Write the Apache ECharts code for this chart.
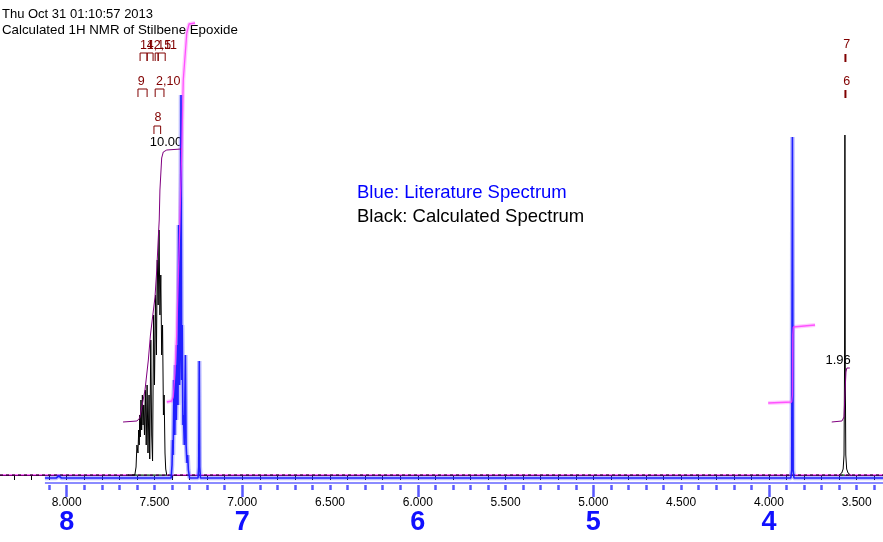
<!DOCTYPE html>
<html><head><meta charset="utf-8">
<script src="https://cdn.jsdelivr.net/npm/echarts@6/dist/echarts.min.js"></script>
<style>html,body{margin:0;padding:0;background:#fff}#c{width:883px;height:542px}</style>
</head><body><div id="c"></div>
<script>
// ---------- data ----------
const titleLines = ["Thu Oct 31 01:10:57 2013", "Calculated 1H NMR of Stilbene Epoxide"];
const legendLines = ["Blue: Literature Spectrum", "Black: Calculated Spectrum"];
const ppmLabels = [8.0, 7.5, 7.0, 6.5, 6.0, 5.5, 5.0, 4.5, 4.0, 3.5];
const integerLabels = [8, 7, 6, 5, 4];
const ppmRange = [3.35, 8.38];
const blueAxisSpan = [8.124, 3.35];

// calculated spectrum (black), [ppm, intensity]
const calcAromatic = [
  [7.650,0],[7.612,0],[7.605,8],[7.600,30],[7.594,22],[7.590,45],[7.587,30],[7.584,60],[7.581,38],
  [7.577,75],[7.573,45],[7.569,80],[7.565,50],[7.561,70],[7.557,40],[7.552,85],[7.547,30],[7.542,90],
  [7.537,22],[7.531,80],[7.527,16],[7.521,135],[7.516,40],[7.511,14],[7.505,160],[7.500,90],[7.494,180],
  [7.489,120],[7.484,215],[7.479,170],[7.474,245],[7.469,160],[7.464,200],[7.459,120],[7.454,150],
  [7.449,60],[7.445,80],[7.440,22],[7.436,6],[7.430,0]
];
const calcEpoxide = [
  [3.600,0],[3.585,2],[3.577,6],[3.572,20],[3.569,110],[3.567,340],[3.565,110],[3.562,20],[3.557,6],[3.549,2],[3.535,0]
];
// literature spectrum (blue)
const litSpectrum = [
  [8.124,-3],[8.06,-3],[8.045,-1],[8.03,-3],[7.62,-3],[7.405,-3],[7.400,10],[7.397,35],[7.394,20],[7.391,60],
  [7.388,95],[7.384,40],[7.380,110],[7.376,55],[7.370,130],[7.366,70],[7.362,250],[7.357,90],[7.353,130],
  [7.349,380],[7.345,95],[7.342,150],[7.338,50],[7.335,60],[7.330,30],[7.324,120],[7.320,30],[7.315,12],
  [7.311,20],[7.307,5],[7.300,-3],[7.252,-3],[7.248,8],[7.245,114],[7.242,8],[7.238,-3],
  [3.875,-3],[3.870,5],[3.866,338],[3.862,5],[3.857,-3],[3.65,-3],[3.64,-1],[3.63,-3],[3.35,-3]
];
// integrals
const calcIntegralAro = [
  [7.679,53],[7.600,54],[7.584,57],[7.573,58],[7.554,85],[7.535,115],[7.523,140],[7.508,162],[7.497,178],
  [7.487,205],[7.478,238],[7.473,255],[7.469,285],[7.459,317],[7.450,323],[7.430,325],[7.349,326]
];
const calcIntegralEpo = [[3.642,53],[3.584,54],[3.572,58],[3.567,80],[3.561,103],[3.556,107],[3.539,107]];
const litIntegralAro = [
  [7.430,73],[7.402,74],[7.393,78],[7.383,102],[7.373,142],[7.355,255],[7.345,325],[7.336,395],
  [7.316,442],[7.303,451],[7.269,452]
];
const litIntegralEpo = [[4.004,72],[3.870,73],[3.866,80],[3.864,140],[3.861,148],[3.737,150]];
// multiplet brackets [ppmLeft, ppmRight, level]
const multipletBrackets = [
  [7.582,7.542,422],[7.542,7.508,422],[7.496,7.479,422],[7.479,7.439,422],
  [7.594,7.542,386],[7.496,7.446,386],
  [7.503,7.465,349],
  [3.564,3.564,421],[3.564,3.564,385]
];
const multipletLabels = [
  ["14,15",7.494,429],["12,11",7.458,429],["9",7.576,393],["2,10",7.422,393],["8",7.480,357],
  ["7",3.557,430],["6",3.557,393]
];
const integralLabels = [["10.00",7.434,333],["1.96",3.606,115]];

// ---------- chart ----------
const minorTicks = [];
for (let v = 83; v >= 34; v--) minorTicks.push(v / 10);
const blueMinor = minorTicks.filter(v => v <= 8.1);

const chart = echarts.init(document.getElementById('c'), null, {renderer: 'canvas'});
const FONT = '"Liberation Sans", Arial, sans-serif';

function line(data, color, width, extra) {
  return Object.assign({
    type: 'line', data: data, symbol: 'none', showSymbol: false, silent: true,
    xAxisIndex: 0, yAxisIndex: 0, animation: false,
    lineStyle: {color: color, width: width}
  }, extra || {});
}
const baseline = [[ppmRange[1], 0], [ppmRange[0], 0]];

chart.setOption({
  animation: false,
  backgroundColor: '#fff',
  grid: {left: 0, right: 0, top: 0, bottom: 57, containLabel: false},
  xAxis: [
    {type: 'value', inverse: true, min: ppmRange[0], max: ppmRange[1], position: 'bottom',
     axisLine: {show: true, lineStyle: {color: '#000', width: 1}},
     axisTick: {show: true, customValues: minorTicks, length: 5, lineStyle: {color: '#000', width: 1}},
     axisLabel: {show: true, customValues: ppmLabels, formatter: v => Number(v).toFixed(3),
       color: '#000', fontSize: 12, fontFamily: FONT, margin: 12},
     splitLine: {show: false}},
    {type: 'value', inverse: true, min: ppmRange[0], max: ppmRange[1], position: 'bottom',
     axisLine: {show: false},
     axisTick: {show: true, customValues: blueMinor, length: 5, lineStyle: {color: 'rgba(80,80,255,0.95)', width: 2.5}},
     axisLabel: {show: false}, splitLine: {show: false}},
    {type: 'value', inverse: true, min: ppmRange[0], max: ppmRange[1], position: 'bottom',
     axisLine: {show: false},
     axisTick: {show: true, customValues: integerLabels, length: 12, lineStyle: {color: 'rgba(80,80,255,0.95)', width: 2.5}},
     axisLabel: {show: true, customValues: integerLabels, formatter: v => String(Math.round(v)),
       color: '#1010ff', fontSize: 27, fontWeight: 'bold', fontFamily: FONT, margin: 24},
     splitLine: {show: false}}
  ],
  yAxis: {type: 'value', min: -10, max: 475, show: false, splitLine: {show: false}},
  graphic: [
    {type: 'text', x: 2, y: 14.5, style: {text: titleLines[0], font: '13px ' + FONT, fill: '#000', textVerticalAlign: 'middle'}},
    {type: 'text', x: 2, y: 30.5, style: {text: titleLines[1], font: '13.3px ' + FONT, fill: '#000', textVerticalAlign: 'middle'}},
    {type: 'text', x: 357, y: 193, style: {text: legendLines[0], font: '18.5px ' + FONT, fill: '#0000ff', textVerticalAlign: 'middle'}},
    {type: 'text', x: 357, y: 216.5, style: {text: legendLines[1], font: '18.5px ' + FONT, fill: '#000', textVerticalAlign: 'middle'}}
  ],
  series: [
    // baselines
    line(baseline, '#ff00ff', 1),
    line(baseline, '#000', 1, {lineStyle: {color: '#000', width: 1, type: [3, 3]}}),
    line([[7.612,0],[7.430,0]], '#00c000', 1, {lineStyle: {color: '#00c000', width: 1, type: [3, 3]}}),
    line([[3.585,0],[3.549,0]], '#00c000', 1, {lineStyle: {color: '#00c000', width: 1, type: [3, 3]}}),
    // blue axis line
    line([[blueAxisSpan[0], -8], [blueAxisSpan[1], -8]], 'rgba(110,110,255,0.8)', 2),
    // literature integral glow (pink)
    line(litIntegralAro, 'rgba(255,110,255,0.35)', 4),
    line(litIntegralEpo, 'rgba(255,110,255,0.35)', 4),
    // literature spectrum (blue)
    line(litSpectrum, 'rgba(70,70,255,0.35)', 4.5),
    line(litSpectrum, '#2020ff', 1.6),
    // literature integral core (pink)
    line(litIntegralAro, 'rgba(255,60,255,0.85)', 1.3),
    line(litIntegralEpo, 'rgba(255,60,255,0.85)', 1.3),
    // calculated spectrum (black)
    line(calcAromatic, '#000', 1),
    line(calcEpoxide, '#000', 1),
    // calculated integrals (purple)
    line(calcIntegralAro, '#800080', 1),
    line(calcIntegralEpo, '#800080', 1),
    // multiplet brackets
    {type: 'custom', silent: true, xAxisIndex: 0, yAxisIndex: 0, data: multipletBrackets,
     renderItem: function (params, api) {
       const a = api.coord([api.value(0), api.value(2)]);
       const b = api.coord([api.value(1), api.value(2)]);
       const single = Math.abs(b[0] - a[0]) < 1;
       return {type: 'polyline', shape: {points: single ? [[a[0], a[1]], [a[0], a[1] + 8]] :
         [[a[0], a[1] + 8], [a[0], a[1]], [b[0], a[1]], [b[0], a[1] + 8]]},
         style: {stroke: '#800000', lineWidth: single ? 2 : 1, fill: null}};
     }},
    {type: 'custom', silent: true, xAxisIndex: 0, yAxisIndex: 0, data: multipletLabels.map(d => [d[1], d[2], d[0]]),
     renderItem: function (params, api) {
       const p = api.coord([api.value(0), api.value(1)]);
       return {type: 'text', x: p[0], y: p[1], style: {text: multipletLabels[params.dataIndex][0],
         font: '12.5px ' + FONT, fill: '#800000', align: 'center', verticalAlign: 'middle'}};
     }},
    {type: 'custom', silent: true, xAxisIndex: 0, yAxisIndex: 0, data: integralLabels.map(d => [d[1], d[2]]),
     renderItem: function (params, api) {
       const p = api.coord([api.value(0), api.value(1)]);
       return {type: 'text', x: p[0], y: p[1], style: {text: integralLabels[params.dataIndex][0],
         font: '13px ' + FONT, fill: '#000', align: 'center', verticalAlign: 'middle'}};
     }}
  ]
});
</script>
</body></html>
